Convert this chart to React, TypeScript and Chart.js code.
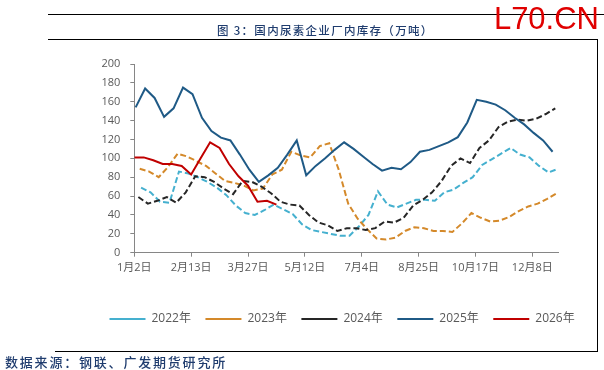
import React, { useEffect, useRef } from 'react';
import { Chart, registerables } from 'chart.js';

Chart.register(...registerables);

const seriesNames = ['2022年', '2023年', '2024年', '2025年', '2026年'];
const seriesColors = ['#45B0CF', '#D4892A', '#262626', '#1F5A86', '#C00000'];
const seriesDashed = [true, true, true, false, false];
// first weekly observation of each year, in days after 1月2日
const seriesStartDays = [5, 4, 3, 1, 0];

const tickDays = [0, 42, 84, 126, 168, 210, 252, 294];
const tickLabels = ['1月2日', '2月13日', '3月27日', '5月12日', '7月4日', '8月25日', '10月17日', '12月8日'];

const v2022 = [69, 64, 54, 53, 86, 84, 80, 75, 69, 61, 50, 42, 40, 45, 51, 46, 41, 30, 24, 22, 20, 18, 18, 28, 40, 65, 51, 48, 52, 56, 56, 55, 64, 67, 74, 80, 93, 99, 105, 111, 104, 101, 92, 85, 89];
const v2023 = [89, 86, 80, 91, 105, 102, 97, 92, 84, 76, 74, 71, 66, 68, 83, 88, 107, 103, 101, 113, 116, 88, 52, 36, 25, 15, 14, 16, 23, 27, 26, 23, 23, 22, 31, 42, 37, 33, 34, 38, 44, 49, 52, 57, 63];
const v2024 = [59, 52, 55, 59, 53, 64, 81, 80, 75, 68, 62, 76, 75, 70, 63, 54, 51, 50, 40, 32, 29, 23, 26, 26, 24, 26, 33, 32, 37, 50, 56, 64, 76, 92, 100, 95, 111, 119, 133, 139, 141, 140, 142, 147, 153];
const v2025 = [154, 174, 164, 144, 153, 175, 168, 143, 129, 122, 119, 104, 88, 75, 82, 90, 104, 119, 82, 92, 100, 109, 117, 110, 102, 94, 87, 90, 88.5, 96, 107, 109, 113, 117, 122.5, 138, 162, 160, 157, 151, 143, 136, 127, 119, 107];
const v2026 = [101, 101, 98, 94, 94, 92, 83, 100, 117, 111, 94, 81, 71, 54, 55, 51];

const seriesValues = [v2022, v2023, v2024, v2025, v2026];

const FONT = '"Open Sans", "Noto Sans CJK SC", sans-serif';
const CJK = '"Noto Sans CJK SC", sans-serif';

// moves the bottom legend so that its first entry begins under 1月2日
const legendShift = {
  id: 'legendShift',
  afterLayout(chart: any) {
    const lg = chart.legend;
    if (!lg) return;
    lg.left = 95;
    lg.right = 604;
  },
};

export default function App() {
  const canvasRef = useRef<HTMLCanvasElement | null>(null);

  useEffect(() => {
    if (!canvasRef.current) return;
    const datasets = seriesValues.map((vals, s) => ({
      label: seriesNames[s],
      data: vals.map((y, i) => ({ x: seriesStartDays[s] + 7 * i, y })),
      borderColor: seriesColors[s],
      backgroundColor: seriesColors[s],
      borderWidth: 2,
      borderDash: seriesDashed[s] ? [6, 3] : [],
      pointRadius: 0,
      pointHoverRadius: 0,
      tension: 0,
      fill: false,
      order: seriesNames.length - s,
    }));

    const chart = new Chart(canvasRef.current, {
      type: 'line',
      data: { datasets },
      plugins: [legendShift],
      options: {
        animation: false,
        responsive: false,
        devicePixelRatio: 1,
        layout: { padding: { left: 0, right: 46, top: 64, bottom: 35 } },
        plugins: {
          tooltip: { enabled: false },
          legend: {
            position: 'bottom',
            align: 'start',
            labels: {
              usePointStyle: true,
              pointStyle: 'line',
              pointStyleWidth: 36,
              boxHeight: 12,
              padding: 14.5,
              color: '#595959',
              font: { size: 12, family: FONT },
              sort: (a: any, b: any) => a.datasetIndex - b.datasetIndex,
            },
          },
        },
        scales: {
          x: {
            type: 'linear',
            min: 0,
            max: 313,
            afterFit: (s: any) => { s.height = 45.8; },
            afterBuildTicks: (s: any) => { s.ticks = tickDays.map((v) => ({ value: v })); },
            ticks: {
              autoSkip: false,
              maxRotation: 0,
              padding: 5,
              color: '#595959',
              font: { size: 11, family: FONT },
              callback: (_v: any, i: number) => tickLabels[i],
            },
            grid: { drawOnChartArea: false, drawTicks: true, tickLength: 4, color: '#868686' },
            border: { display: true, color: '#868686', width: 1 },
          },
          y: {
            min: 0,
            max: 200,
            afterFit: (s: any) => { s.width = 134.3; },
            ticks: {
              stepSize: 20,
              padding: 10,
              color: '#595959',
              font: { size: 11, family: FONT },
            },
            grid: { drawOnChartArea: false, drawTicks: true, tickLength: 4, color: '#868686' },
            border: { display: true, color: '#868686', width: 1 },
          },
        },
      },
    });
    return () => chart.destroy();
  }, []);

  const line = (style: React.CSSProperties): React.CSSProperties => ({
    position: 'absolute',
    background: '#000',
    ...style,
  });

  return (
    <div style={{ position: 'fixed', left: 0, top: 0, width: 604, height: 370, background: '#fff', overflow: 'hidden' }}>
      <canvas ref={canvasRef} width={604} height={370} style={{ position: 'absolute', left: 0, top: 0, width: 604, height: 370 }} />
      <div style={line({ left: 48, top: 14, width: 556, height: 1 })} />
      <div style={line({ left: 48, top: 39, width: 550, height: 1 })} />
      <div style={line({ left: 597, top: 39, width: 1, height: 313 })} />
      <div style={line({ left: 55, top: 351, width: 543, height: 1 })} />
      <div
        style={{
          position: 'absolute', left: 217, top: 21, whiteSpace: 'nowrap',
          fontFamily: CJK, fontSize: 11.5, letterSpacing: 1.3, color: '#1F3C6E', lineHeight: '18px',
          fontWeight: 500,
        }}
      >
        图 3：国内尿素企业厂内库存（万吨）
      </div>
      <div
        style={{
          position: 'absolute', right: 5, top: 1, fontFamily: '"Liberation Sans", Arial, sans-serif',
          fontSize: 31, color: '#E00000', lineHeight: '36px',
        }}
      >
        L70.CN
      </div>
      <div
        style={{
          position: 'absolute', left: 5, top: 353, fontFamily: CJK, fontSize: 13, letterSpacing: 1.8,
          color: '#1F3C6E', lineHeight: '18px', fontWeight: 500,
        }}
      >
        数据来源：钢联、广发期货研究所
      </div>
    </div>
  );
}
